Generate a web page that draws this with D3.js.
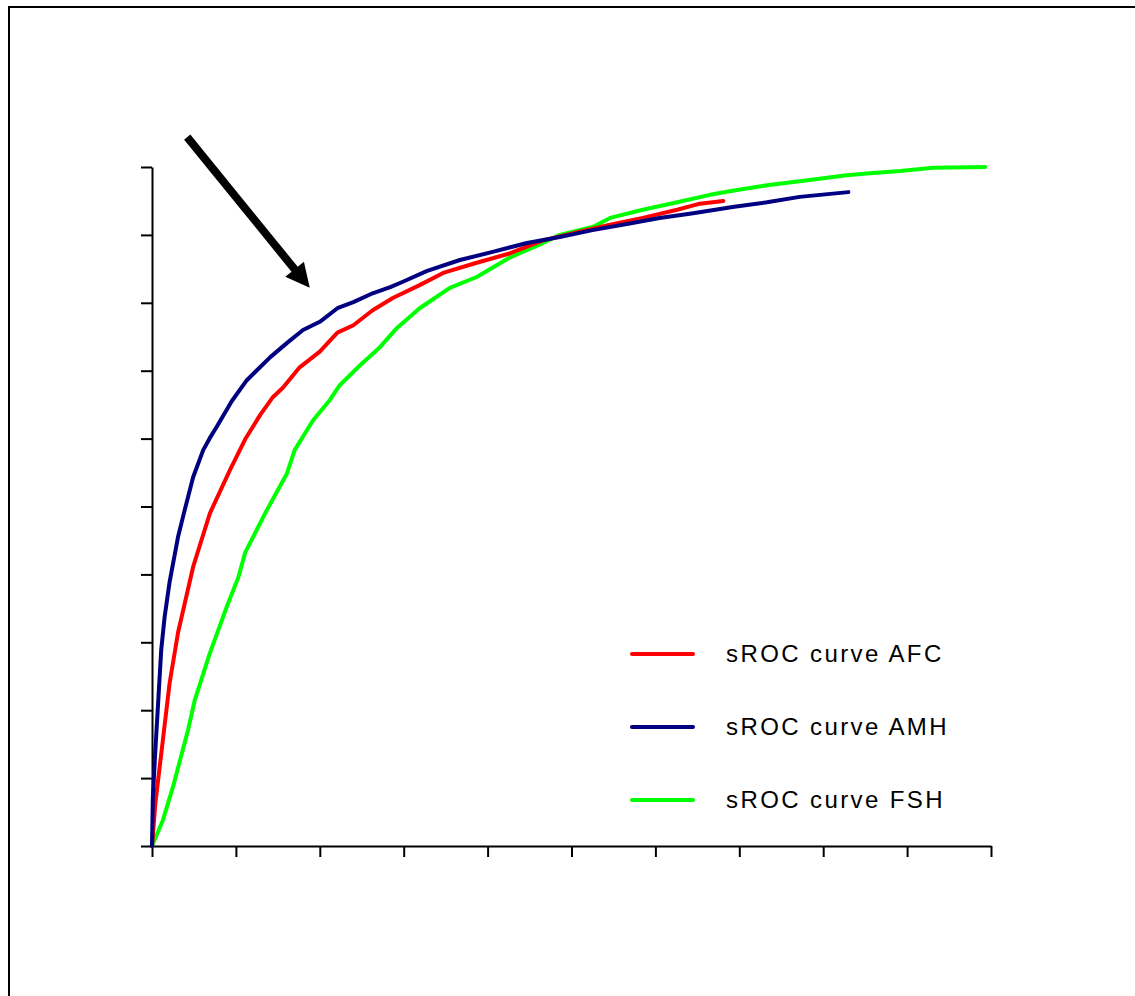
<!DOCTYPE html>
<html>
<head>
<meta charset="utf-8">
<script src="https://cdn.jsdelivr.net/npm/d3@7/dist/d3.min.js"></script>
<style>
  html, body { margin: 0; padding: 0; background: #fff; overflow: hidden; }
  svg { display: block; }
  text { font-family: "Liberation Sans", Arial, Helvetica, sans-serif; }
</style>
</head>
<body>
<svg id="chart" width="1135" height="996"></svg>
<script>
// Summary ROC curves: [1 - specificity, sensitivity]
const afcCurve = [
  [0, 0], [0.004, 0.063], [0.012, 0.146], [0.021, 0.240], [0.031, 0.314],
  [0.049, 0.411], [0.069, 0.490], [0.093, 0.554], [0.111, 0.599], [0.129, 0.635],
  [0.144, 0.661], [0.156, 0.675], [0.176, 0.705], [0.200, 0.728], [0.221, 0.756],
  [0.240, 0.767], [0.263, 0.789], [0.287, 0.807], [0.319, 0.826], [0.347, 0.844],
  [0.387, 0.859], [0.427, 0.873], [0.466, 0.892], [0.507, 0.904], [0.546, 0.915],
  [0.585, 0.925], [0.626, 0.937], [0.653, 0.946], [0.681, 0.950]
];
const amhCurve = [
  [0, 0], [0.001, 0.071], [0.004, 0.141], [0.011, 0.289], [0.015, 0.337],
  [0.021, 0.389], [0.031, 0.455], [0.039, 0.495], [0.049, 0.543], [0.061, 0.583],
  [0.069, 0.601], [0.077, 0.617], [0.095, 0.655], [0.113, 0.686], [0.141, 0.720],
  [0.161, 0.741], [0.180, 0.760], [0.200, 0.772], [0.221, 0.792], [0.240, 0.801],
  [0.263, 0.814], [0.284, 0.823], [0.299, 0.831], [0.328, 0.847], [0.367, 0.863],
  [0.406, 0.875], [0.447, 0.888], [0.486, 0.897], [0.525, 0.907], [0.566, 0.916],
  [0.605, 0.925], [0.645, 0.932], [0.692, 0.941], [0.733, 0.948], [0.772, 0.956],
  [0.830, 0.963]
];
const fshCurve = [
  [0, 0], [0.013, 0.038], [0.025, 0.087], [0.043, 0.171], [0.051, 0.215],
  [0.069, 0.284], [0.089, 0.352], [0.103, 0.396], [0.111, 0.432], [0.137, 0.495],
  [0.161, 0.549], [0.170, 0.583], [0.192, 0.627], [0.212, 0.657], [0.224, 0.679],
  [0.248, 0.708], [0.272, 0.735], [0.292, 0.763], [0.319, 0.792], [0.355, 0.822],
  [0.387, 0.838], [0.427, 0.867], [0.466, 0.888], [0.486, 0.900], [0.526, 0.912],
  [0.546, 0.925], [0.585, 0.937], [0.626, 0.948], [0.665, 0.959], [0.692, 0.965],
  [0.733, 0.973], [0.772, 0.979], [0.828, 0.988], [0.859, 0.991], [0.892, 0.994],
  [0.931, 0.999], [0.993, 1.000]
];

const seriesNames = ["sROC curve AFC", "sROC curve AMH", "sROC curve FSH"];
const seriesColors = ["#ff0000", "#000080", "#00ff00"];
const tickValues = d3.range(0, 1.0001, 0.1);

// Arrow annotation, in data units: from tail to tip
const arrowTail = [0.042, 1.044];
const arrowTip = [0.188, 0.822];

const svg = d3.select("#chart");

// Outer frame (left and top edges lie inside the page)
svg.append("path")
  .attr("d", "M9,996 V7 H1135")
  .attr("fill", "none")
  .attr("stroke", "#000").attr("stroke-width", 2);

const x = d3.scaleLinear().domain([0, 1]).range([152, 991]);
const y = d3.scaleLinear().domain([0, 1]).range([846, 167]);

const xAxis = d3.axisBottom(x).tickValues(tickValues).tickSize(11).tickSizeOuter(0).tickFormat("");
const yAxis = d3.axisLeft(y).tickValues(tickValues).tickSize(11).tickSizeOuter(0).tickFormat("");

const gx = svg.append("g").attr("transform", `translate(0,${y(0)})`).call(xAxis);
const gy = svg.append("g").attr("transform", `translate(${x(0)},0)`).call(yAxis);
[gx, gy].forEach(g => {
  g.selectAll("path.domain").attr("stroke", "#000").attr("stroke-width", 2);
  g.selectAll(".tick line").attr("stroke", "#000").attr("stroke-width", 2);
});

// Curves
const line = d3.line().x(d => x(d[0])).y(d => y(d[1]));
const curves = [afcCurve, amhCurve, fshCurve];
// draw FSH first, then AFC, then AMH on top
[2, 0, 1].forEach(i => {
  svg.append("path")
    .datum(curves[i])
    .attr("d", line)
    .attr("fill", "none")
    .attr("stroke", seriesColors[i])
    .attr("stroke-width", 4)
    .attr("stroke-linejoin", "round")
    .attr("stroke-linecap", "round");
});

// Arrow
const tx = x(arrowTail[0]), ty = y(arrowTail[1]);
const hx = x(arrowTip[0]), hy = y(arrowTip[1]);
const len = Math.hypot(hx - tx, hy - ty);
const ux = (hx - tx) / len, uy = (hy - ty) / len;
const headLen = 24, headHalf = 12;
const bx = hx - ux * headLen, by = hy - uy * headLen;
svg.append("line")
  .attr("x1", tx).attr("y1", ty)
  .attr("x2", bx + ux * 2).attr("y2", by + uy * 2)
  .attr("stroke", "#000").attr("stroke-width", 8);
svg.append("path")
  .attr("d", `M${hx},${hy} L${bx - uy * headHalf},${by + ux * headHalf} L${bx + uy * headHalf},${by - ux * headHalf} Z`)
  .attr("fill", "#000");

// Legend
const legendY = [654, 727, 800];
const legend = svg.append("g");
seriesNames.forEach((name, i) => {
  legend.append("line")
    .attr("x1", 632).attr("x2", 693)
    .attr("y1", legendY[i]).attr("y2", legendY[i])
    .attr("stroke", seriesColors[i])
    .attr("stroke-width", 4)
    .attr("stroke-linecap", "round");
  legend.append("text")
    .attr("x", 726).attr("y", legendY[i] + 8)
    .attr("font-size", 24)
    .attr("letter-spacing", "2.4px")
    .attr("fill", "#000")
    .text(name);
});
</script>
</body>
</html>
